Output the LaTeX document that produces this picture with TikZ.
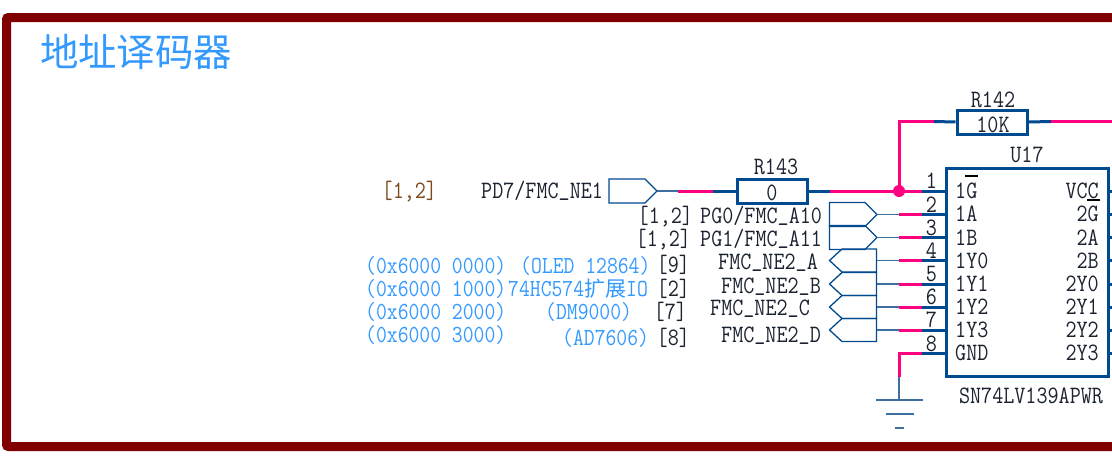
\documentclass[tikz,border=0pt]{standalone}
\usepackage{fontspec}
\setmonofont[FakeStretch=0.86]{Latin Modern Mono}
\newfontfamily\cjk{Noto Sans CJK SC}
\newcommand{\usc}{\smash{\raisebox{3pt}{\_}}}
\definecolor{framered}{HTML}{800000}
\definecolor{titleblue}{HTML}{3399FF}
\definecolor{wireblue}{HTML}{004A8F}
\definecolor{thinblue}{HTML}{3F6F9F}
\definecolor{netpink}{HTML}{FF0080}
\definecolor{tagbrown}{HTML}{7A4A1A}
\definecolor{textdark}{HTML}{1A2230}
\tikzset{
  txt/.style={font=\ttfamily\fontsize{25}{25}\selectfont,text=textdark,inner sep=0pt,text height=14pt,text depth=1pt},
  note/.style={font=\ttfamily\fontsize{24.5}{24.5}\selectfont,inner sep=0pt,text=titleblue,text height=14pt,text depth=1pt},
  pinwire/.style={line width=3pt,color=wireblue},
  netwire/.style={line width=3pt,color=netpink},
  thinwire/.style={line width=1.6pt,color=thinblue},
  port/.style={line width=1.3pt,color=wireblue,line join=miter},
  res/.style={draw=wireblue,line width=3pt,minimum width=70pt,minimum height=24pt,inner sep=0pt},
}
\begin{document}
\begin{tikzpicture}[x=1pt,y=-1pt]
        \useasboundingbox (0,0) rectangle (1112,456) ;
        \draw[color=framered,line width=9pt,rounded corners=2pt] (1125,17.5) -- (6.5,17.5) -- (6.5,446.5) -- (1125,446.5) ;
        \clip (0,0) rectangle (1112,456) ;
        \node[anchor=base west,inner sep=0pt,text=titleblue,font=\cjk\fontsize{38.4}{38.4}\selectfont] (title) at (40,66) {地址译码器} ;

        % left notes
        \node[txt,anchor=base west,text=tagbrown] (tagNE1) at (381.5,198) {[1,2]} ;
        \node[txt,anchor=base west] (nameNE1) at (481,198.5) {PD7/FMC\usc NE1} ;
        \node[txt,anchor=base west] (tagA10) at (637.5,223) {[1,2]} ;
        \node[txt,anchor=base west] (tagA11) at (635.5,246) {[1,2]} ;
        \node[txt,anchor=base west] (nameA10) at (700,223.5) {PG0/FMC\usc A10} ;
        \node[txt,anchor=base west] (nameA11) at (700,246.5) {PG1/FMC\usc A11} ;
        \foreach \n/\x/\y in {A/718/269.5,B/721/293,C/710/315.5,D/721/342.5}
          \node[txt,anchor=base west] (name\n) at (\x,\y) {FMC\usc NE2\usc\n} ;
        \foreach \n/\y/\t in {A/273/0000,B/296.5/1000,C/319/2000,D/342.5/3000}
          \node[note,anchor=base west] (addr\n) at (365,\y) {(0x6000 \t)} ;
        \node[note,anchor=base west] (devA) at (520,273) {(OLED 12864)} ;
        \node[note,anchor=base west] (devB) at (508,296.5) {74HC574{\cjk\fontsize{21}{21}\selectfont 扩展}IO} ;
        \node[note,anchor=base west] (devC) at (545,319) {(DM9000)} ;
        \node[note,anchor=base west] (devD) at (562,345.5) {(AD7606)} ;
        \foreach \n/\x/\y/\t in {A/656.5/272.5/9,B/656.5/296.5/2,C/653.5/319/7,D/656.5/345.5/8}
          \node[txt,anchor=base west] (sheet\n) at (\x,\y) {[\t]} ;

        % U17
        \node[draw=wireblue,line width=3pt,minimum width=162pt,minimum height=208pt,inner sep=0pt] (U17) at (1027,272) {} ;
        \node[txt,anchor=base] (U17name) at (1027,162) {U17} ;
        \node[txt,anchor=base] (U17type) at (1031,403.5) {SN74LV139APWR} ;
        \foreach \n/\y/\a/\b/\c in {1/191/1G/VCC/198.5,2/214.5/1A/2G/221.5,3/237.5/1B/2A/245.5,4/260.5/1Y0/2B/268,5/284/1Y1/2Y0/291.5,6/307/1Y2/2Y1/314.5,7/330/1Y3/2Y2/337.5,8/353.5/GND/2Y3/360.5}{
          \coordinate (pin\n) at (946,\y) ;
          \coordinate (stub\n) at (922,\y) ;
          \coordinate (end\n) at (899,\y) ;
          \coordinate (tip\n) at (877,\y) ;
          \coordinate (rpin\n) at (1108,\y) ;
          \coordinate (rend\n) at (1113,\y) ;
          \draw[pinwire] (stub\n) -- (pin\n) ;
          \draw[pinwire] (rpin\n) -- (rend\n) ;
          \node[txt,anchor=base] (num\n) at (931.5,\y-2.5) {\n} ;
          \node[txt,anchor=base west] (lname\n) at (955,\c) {\a} ;
          \node[txt,anchor=base east] (rname\n) at (1099,\c) {\b} ;
        }
        \draw[line width=2pt,color=black] (965,176) -- (978,176) ; % bar of 1G
        \draw[line width=2pt,color=black] (1087,199.5) -- (1100,199.5) ;

        % resistors
        \node[res] (R143) at (772,191) {} ;
        \node[res] (R142) at (992,122) {} ;
        \node[txt,anchor=base] (R143name) at (776,174.5) {R143} ;
        \node[txt,anchor=base] (R143val) at (772,200) {0} ;
        \node[txt,anchor=base] (R142name) at (993,107.5) {R142} ;
        \node[txt,anchor=base] (R142val) at (993,132) {10K} ;

        % ports
        \coordinate (tipNE1) at (657,191) ;
        \draw[port,fill=white] (609,179) -- (645,179) -- (tipNE1) -- (645,203) -- (609,203) -- cycle ;
        \foreach \n/\y in {2/214.5,3/237.5}
          \draw[port] (829.5,\y-12) -- (865,\y-12) -- (877,\y) -- (865,\y+12) -- (829.5,\y+12) -- cycle ;
        \foreach \n/\y in {4/260.5,5/284,6/307,7/330}
          \draw[port] (876.5,\y-11.5) -- (842,\y-11.5) -- (829.5,\y) -- (842,\y+11.5) -- (876.5,\y+11.5) -- cycle ;

        % nets
        \coordinate (jct) at (899,191) ;
        \coordinate (corner) at (899,121.5) ;
        \draw[thinwire] (tipNE1) -- (678,191) coordinate (a1) ;
        \draw[netwire] (a1) -- (713,191) coordinate (a2) ;
        \draw[pinwire] (a2) -- (R143.west) ;
        \draw[pinwire] (R143.east) -- (830,191) coordinate (a3) ;
        \draw[netwire] (a3) -- (stub1) ;
        \fill[netpink] (jct) circle (6) ;
        \draw[netwire,line join=miter] (jct) -- (corner) -- (934,121.5) coordinate (b1) ;
        \draw[pinwire] (b1) -- (R142.west) ;
        \draw[pinwire] (R142.east) -- (1051,121.5) coordinate (b2) ;
        \draw[netwire] (b2) -- (1113,121.5) ;
        \foreach \n in {2,...,7}{
          \draw[netwire] (end\n) -- (stub\n) ;
          \draw[thinwire] (tip\n) -- (end\n) ;
        }
        \draw[netwire,line join=miter] (stub8) -- (end8) -- (899,376.5) coordinate (g1) ;
        \coordinate (g2) at (899,400) ;
        \draw[thinwire] (g1) -- (g2) ;
        \draw[thinwire] (876,400) -- (923,400) ;
        \draw[thinwire] (885.5,414) -- (914,414) ;
        \draw[thinwire] (895,428) -- (904,428) ;
      \end{tikzpicture}
\end{document}
